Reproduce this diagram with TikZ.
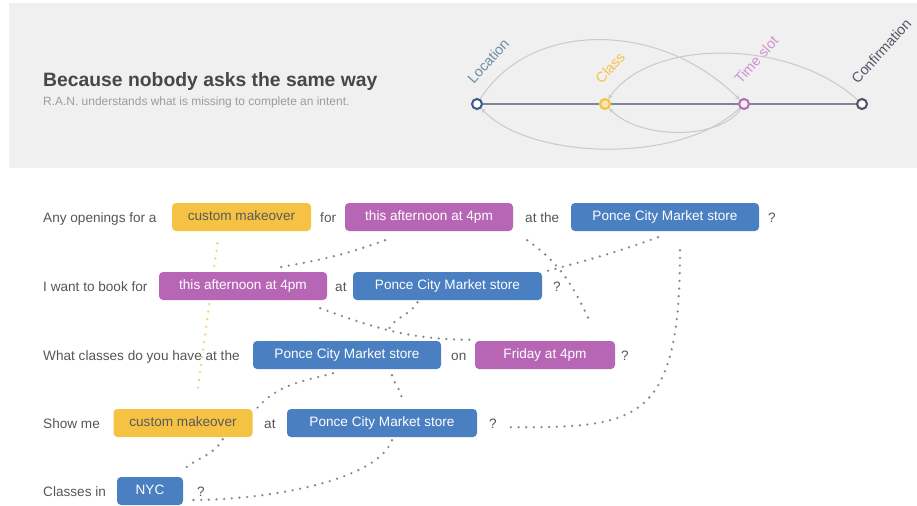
\documentclass[tikz,border=0pt]{standalone}
\usepackage{fontspec}
\setmainfont{Liberation Sans}
\usetikzlibrary{arrows.meta,backgrounds}
\definecolor{bandgray}{HTML}{F0F0F0}
\definecolor{txtgray}{HTML}{555555}
\definecolor{subgray}{HTML}{9C9C9C}
\definecolor{slotyellow}{HTML}{F5C244}
\definecolor{slotpurple}{HTML}{B766B5}
\definecolor{slotblue}{HTML}{4A7FC2}
\definecolor{dotgray}{HTML}{8A8A8A}
\definecolor{dotyellow}{HTML}{F3D27E}
\definecolor{arcgray}{HTML}{CBCBCB}
\definecolor{railgray}{HTML}{7E8596}
\definecolor{locblue}{HTML}{3F5C8C}
\definecolor{loctext}{HTML}{6A8EA6}
\definecolor{timepurple}{HTML}{B56FB5}
\definecolor{timetext}{HTML}{D291D2}
\definecolor{confgray}{HTML}{55556A}
\tikzset{
  words/.style={anchor=base west,text=txtgray,inner sep=0pt,font=\fontsize{11.6}{13}\selectfont},
  slot/.style={rounded corners=0.12cm,minimum height=0.84cm,inner sep=0pt,text height=8pt,text depth=2pt,font=\fontsize{11.6}{13}\selectfont},
  loc/.style={slot,fill=slotblue,text=white},
  cls/.style={slot,fill=slotyellow,text=black!65},
  when/.style={slot,fill=slotpurple,text=white},
  wide/.style={minimum width=#1*0.03cm},
  hint/.style={dotgray,line width=2.2pt,line cap=round,dash pattern=on 0pt off 0.23cm},
  station/.style={circle,draw,line width=1.8pt,minimum size=0.3cm,inner sep=0pt},
  tag/.style={rotate=48,anchor=south west,inner sep=0pt,font=\fontsize{12.2}{14}\selectfont},
  hop/.style={arcgray,line width=0.9pt,-{Stealth[length=4pt,width=4pt]}}
}
\begin{document}
\begin{tikzpicture}[x=0.03cm,y=0.03cm]
    \useasboundingbox (0,0) rectangle (917,-506);
    %% header band
    \fill[bandgray] (9,-3) rectangle (917,-168);
    \node[anchor=base west,inner sep=0pt,text=black!72,font=\bfseries\fontsize{16.5}{18}\selectfont] (head) at (43,-86) {Because nobody asks the same way};
    \node[anchor=base west,inner sep=0pt,text=subgray,font=\fontsize{10.2}{12}\selectfont] (sub) at (43,-106) {R.A.N. understands what is missing to complete an intent.};
    %% intent path
    \node[station,draw=locblue,fill=white] (L) at (477,-104) {};
    \node[station,draw=slotyellow,fill=slotyellow!40] (C) at (605,-104) {};
    \node[station,draw=timepurple,fill=timepurple!10] (T) at (744,-104) {};
    \node[station,draw=confgray,fill=white] (F) at (862,-104) {};
    \draw[railgray,line width=2.4pt] (L) -- (C) -- (T) -- (F);
    \node[tag,text=loctext] (Ltag) at ([shift={(-3,19)}]L) {Location};
    \node[tag,text=slotyellow] (Ctag) at ([shift={(-3,19)}]C) {Class};
    \node[tag,text=timetext] (Ttag) at ([shift={(-3,19)}]T) {Time slot};
    \node[tag,text=confgray] (Ftag) at ([shift={(-4,19)}]F) {Confirmation};
    %% jumps
    \draw[hop] ([shift={(10,16)}]L) .. controls +(43,68) and +(-73,75) .. ([shift={(-11,9)}]T);
    \draw[hop] ([shift={(-9,12)}]F) .. controls +(-63,54) and +(42,50) .. ([shift={(3,16)}]C);
    \draw[hop] ([shift={(-2,-16)}]T) .. controls +(-62,-45) and +(50,-45) .. ([shift={(3,-11)}]L);
    \draw[hop] ([shift={(-2,-16)}]T) .. controls +(-22,-20) and +(37,-23) .. ([shift={(-2,-13)}]C);
    %% row 1
    \node[words] (r1) at (43,-222) {Any openings for a};
    \node[cls,wide=139] (c1) at (241.5,-217) {custom makeover};
    \node[words] (r1a) at (320,-222) {for};
    \node[when,wide=168] (w1) at (429,-217) {this afternoon at 4pm};
    \node[words] (r1b) at (525,-222) {at the};
    \node[loc,wide=188] (l1) at (665,-217) {Ponce City Market store};
    \node[words] (q1) at (768,-222) {?};
    %% row 2
    \node[words] (r2) at (43,-291) {I want to book for};
    \node[when,wide=168] (w2) at (243,-286) {this afternoon at 4pm};
    \node[words] (r2a) at (335,-291) {at};
    \node[loc,wide=189] (l2) at (447.5,-286) {Ponce City Market store};
    \node[words] (q2) at (553,-291) {?};
    %% row 3
    \node[words] (r3) at (43,-360) {What classes do you have at the};
    \node[loc,wide=188] (l3) at (347,-355) {Ponce City Market store};
    \node[words] (r3a) at (451,-360) {on};
    \node[when,wide=140] (w3) at (545,-355) {Friday at 4pm};
    \node[words] (q3) at (621,-360) {?};
    %% row 4
    \node[words] (r4) at (43,-428) {Show me};
    \node[cls,wide=139] (c4) at (183,-423) {custom makeover};
    \node[words] (r4a) at (264,-428) {at};
    \node[loc,wide=190] (l4) at (382,-423) {Ponce City Market store};
    \node[words] (q4) at (489,-428) {?};
    %% row 5
    \node[words] (r5) at (43,-496) {Classes in};
    \node[loc,wide=66] (l5) at (150,-491) {NYC};
    \node[words] (q5) at (197,-496) {?};
    %% links between the same slots
    \begin{scope}[on background layer]
    \draw[hint,dotyellow] ([shift={(-24,-12)}]c1.south) -- ([shift={(14,14)}]c4.north);
    \draw[hint] ([shift={(-44,-9)}]w1.south) to[out=200,in=10] ([shift={(34,4)}]w2.north);
    \draw[hint] ([shift={(-7,-6)}]l1.south) to[out=200,in=15] ([shift={(2,0)}]l2.north east);
    \draw[hint] ([shift={(14,-9)}]w1.south east) to[out=-35,in=115] ([shift={(45,19)}]w3.north);
    \draw[hint] ([shift={(-7,-8)}]w2.south east) to[out=-20,in=180] ([shift={(-2,1)}]w3.north west);
    \draw[hint] ([shift={(-30,-2)}]l2.south) to[out=240,in=80] ([shift={(40,6)}]l3.north);
    \draw[hint] ([shift={(15,-19)}]l1.south) .. controls +(0,-178) and +(130,0) .. ([shift={(7,-4)}]q4.east);
    \draw[hint] ([shift={(-14,-4)}]l3.south) to[out=195,in=50] ([shift={(3,-1)}]c4.north east);
    \draw[hint] ([shift={(45,-6)}]l3.south) to[out=-75,in=95] ([shift={(20,9)}]l4.north);
    \draw[hint] ([shift={(-30,-2)}]c4.south east) to[out=240,in=45] ([shift={(-2,5)}]l5.north east);
    \draw[hint] ([shift={(10,-3)}]l4.south) .. controls +(-15,-40) and +(80,0) .. ([shift={(7,-9)}]l5.east);
    \end{scope}
\end{tikzpicture}
\end{document}
